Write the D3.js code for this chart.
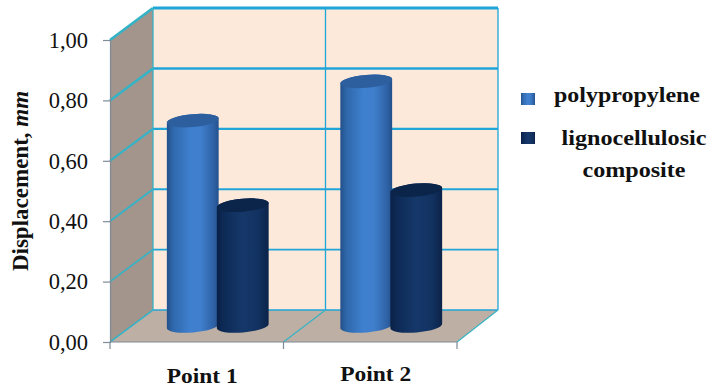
<!DOCTYPE html>
<html>
<head>
<meta charset="utf-8">
<script src="https://cdn.jsdelivr.net/npm/d3@7"></script>
<style>
html,body{margin:0;padding:0;background:#fff}
svg{display:block}
text{font-family:"Liberation Serif",serif;fill:#111}
</style>
</head>
<body>
<svg id="chart" width="708" height="389"></svg>
<script>
// Displacement per measuring point, in mm
const categories = ["Point 1", "Point 2"];
const seriesNames = ["polypropylene", "lignocellulosic composite"];
const polypropylene = [0.68, 0.81];
const lignocellulosic = [0.40, 0.45];
const yTicks = [0, 0.2, 0.4, 0.6, 0.8, 1.0];

const svg = d3.select("#chart");
const W = {x0: 110, x1: 457, y0: 342, y1: 40, dx: 43, dy: -32};

const y = d3.scaleLinear().domain([0, 1]).range([W.y0, W.y1]);
const x0 = d3.scaleBand().domain(categories).range([W.x0, W.x1]);

const defs = svg.append("defs");
function barGradient(id, stops) {
  const g = defs.append("linearGradient").attr("id", id).attr("x1", 0).attr("x2", 1).attr("y1", 0).attr("y2", 0);
  stops.forEach(([o, c]) => g.append("stop").attr("offset", o).attr("stop-color", c));
}
barGradient("gBlue", [[0, "#234f8a"], [0.12, "#2f68ab"], [0.45, "#3f80cf"], [0.65, "#3f7fcc"], [0.9, "#2f62a6"], [1, "#23508c"]]);
barGradient("gDark", [[0, "#0a2146"], [0.15, "#0e2b57"], [0.5, "#15386a"], [0.8, "#123261"], [1, "#0b2349"]]);

const gridColor = "#1fa5d8", sideColor = "#35b3c6";
const backRight = W.x1 + W.dx - 2;

// Walls and floor of the 3D box
const poly = (pts, fill) => svg.append("polygon").attr("points", pts.map(p => p.join(",")).join(" ")).attr("fill", fill);
poly([[W.x0 + W.dx, y(1) + W.dy], [backRight, y(1) + W.dy], [backRight, y(0) + W.dy], [W.x0 + W.dx, y(0) + W.dy]], "#fde9da");
poly([[W.x0, y(1)], [W.x0 + W.dx, y(1) + W.dy], [W.x0 + W.dx, y(0) + W.dy], [W.x0, y(0)]], "#a3958c");
poly([[W.x0, y(0)], [W.x1, y(0)], [backRight, y(0) + W.dy], [W.x0 + W.dx, y(0) + W.dy]], "#bdafa4");

// Gridlines on the side and back walls
const weight = d3.scaleLinear().domain([0, 1]).range([1.4, 2.8]);
yTicks.forEach(t => {
  svg.append("line").attr("x1", W.x0).attr("y1", y(t)).attr("x2", W.x0 + W.dx).attr("y2", y(t) + W.dy)
    .attr("stroke", sideColor).attr("stroke-width", weight(t));
  svg.append("line").attr("x1", W.x0 + W.dx).attr("y1", y(t) + W.dy).attr("x2", backRight).attr("y2", y(t) + W.dy)
    .attr("stroke", gridColor).attr("stroke-width", weight(t));
});
// Vertical dividers on the back wall and across the floor
[W.x0, x0(categories[1]), W.x1].forEach(xv => {
  const bx = xv === W.x1 ? backRight : xv + W.dx - (xv === W.x0 ? 0 : 1);
  svg.append("line").attr("x1", bx).attr("x2", bx)
    .attr("y1", y(1) + W.dy).attr("y2", y(0) + W.dy).attr("stroke", xv === W.x0 ? sideColor : gridColor).attr("stroke-width", 1.3);
  svg.append("line").attr("x1", xv).attr("y1", y(0)).attr("x2", bx).attr("y2", y(0) + W.dy)
    .attr("stroke", sideColor).attr("stroke-width", 1.1);
});

// Cylinders, left to right so the darker one overlaps its neighbour
const rx = 26, ry = 6.5, tiltDeg = 5, tilt = tiltDeg * Math.PI / 180;
const cx = Math.cos(tilt) * rx, cy = Math.sin(tilt) * rx;
function cylinder(xc, value, fill, topFill) {
  const base = y(0) + W.dy / 2, top = y(value) + W.dy / 2;
  const arc = (ex, ey, sweep) => `A${rx},${ry} ${-tiltDeg} 0 ${sweep} ${ex},${ey}`;
  svg.append("path")
    .attr("d", `M${xc - cx},${top + cy} L${xc - cx},${base + cy} ${arc(xc + cx, base - cy, 0)} L${xc + cx},${top - cy} ${arc(xc - cx, top + cy, 0)} Z`)
    .attr("fill", fill);
  svg.append("ellipse").attr("cx", xc).attr("cy", top).attr("rx", rx).attr("ry", ry)
    .attr("transform", `rotate(${-tiltDeg} ${xc} ${top})`).attr("fill", topFill);
}
categories.forEach((c, i) => {
  const mid = x0(c) + x0.bandwidth() / 2 + W.dx / 2 - 0.5;
  cylinder(mid - 25, polypropylene[i], "url(#gBlue)", "#2d5f9f");
  cylinder(mid + 25, lignocellulosic[i], "url(#gDark)", "#0b2449");
});

// Value axis
const yAxis = d3.axisLeft(y).tickValues(yTicks).tickSize(7).tickPadding(15)
  .tickFormat(d => d3.format(".2f")(d).replace(".", ","));
const gy = svg.append("g").attr("transform", `translate(${W.x0},0)`).call(yAxis);
gy.selectAll("path,line").attr("stroke", "#7d8b97").attr("stroke-width", 1.2);
gy.selectAll("text").attr("font-size", 22.5).attr("fill", "#222").style("font-family", '"Liberation Serif",serif');

// Category axis with ticks on the band edges
const gx = svg.append("g");
gx.append("line").attr("x1", W.x0).attr("x2", W.x1).attr("y1", y(0)).attr("y2", y(0)).attr("stroke", "#7d8b97").attr("stroke-width", 1.2);
[W.x0, x0(categories[1]), W.x1].forEach(xv => {
  gx.append("line").attr("x1", xv).attr("x2", xv).attr("y1", y(0)).attr("y2", y(0) + 7).attr("stroke", "#7d8b97").attr("stroke-width", 1.2);
});
categories.forEach((c, i) => {
  gx.append("text").attr("x", x0(c) + x0.bandwidth() / 2 + 5.5).attr("y", i === 0 ? 383 : 381)
    .attr("text-anchor", "middle").attr("font-weight", "bold").attr("font-size", 20)
    .attr("textLength", 71).attr("lengthAdjust", "spacingAndGlyphs").text(c);
});

// Axis title
const title = svg.append("text").attr("transform", "translate(28,181) rotate(-90)")
  .attr("text-anchor", "middle").attr("font-weight", "bold").attr("font-size", 23);
title.append("tspan").text("Displacement, ");
title.append("tspan").attr("font-style", "italic").text("mm");

// Legend
const legend = [
  {fill: "url(#gBlue)", y: 93, lines: [{t: seriesNames[0], x: 627, y: 102, w: 146}]},
  {fill: "url(#gDark)", y: 132, lines: [{t: "lignocellulosic", x: 634, y: 145, w: 145}, {t: "composite", x: 634, y: 177, w: 103}]}
];
legend.forEach(l => {
  svg.append("rect").attr("x", 521).attr("y", l.y).attr("width", 14).attr("height", 12).attr("fill", l.fill);
  l.lines.forEach(s => svg.append("text").attr("x", s.x).attr("y", s.y).attr("text-anchor", "middle")
    .attr("font-weight", "bold").attr("font-size", 20)
    .attr("textLength", s.w).attr("lengthAdjust", "spacingAndGlyphs").text(s.t));
});
</script>
</body>
</html>
